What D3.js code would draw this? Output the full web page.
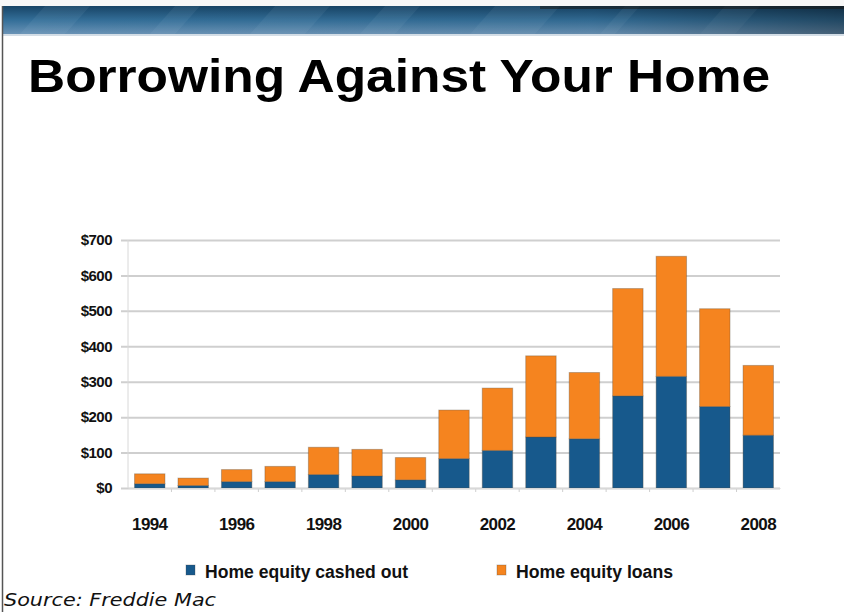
<!DOCTYPE html>
<html>
<head>
<meta charset="utf-8">
<script src="https://cdn.jsdelivr.net/npm/d3@7"></script>
<style>
  body { margin: 0; background: #fff; }
  svg { display: block; }
</style>
</head>
<body>
<div id="chart-container"></div>
<script>
// Years, and the two stacked series (billions of dollars)
const years = [1994, 1995, 1996, 1997, 1998, 1999, 2000, 2001, 2002, 2003, 2004, 2005, 2006, 2007, 2008];
const cashedOut = [12, 7, 18, 18, 38, 34, 23, 83, 106, 144, 139, 260, 315, 230, 149];
const equityLoans = [28, 21, 34, 43, 77, 75, 63, 137, 176, 229, 187, 303, 339, 276, 197];
const yTicks = [0, 100, 200, 300, 400, 500, 600, 700];
const seriesNames = ["Home equity cashed out", "Home equity loans"];
const seriesColors = ["#17598c", "#f5841f"];

const W = 844, H = 612;
const svg = d3.select("#chart-container").append("svg")
    .attr("width", W)
    .attr("height", H);

// Banner strip at the top
const defs = svg.append("defs");
const grad = defs.append("linearGradient").attr("id", "banner").attr("x1", 0).attr("y1", 0).attr("x2", 0).attr("y2", 1);
grad.append("stop").attr("offset", "0%").attr("stop-color", "#174466");
grad.append("stop").attr("offset", "50%").attr("stop-color", "#336e98");
grad.append("stop").attr("offset", "100%").attr("stop-color", "#6a93b6");
const grad2 = defs.append("linearGradient").attr("id", "bannerShade").attr("x1", 0).attr("y1", 0).attr("x2", 1).attr("y2", 0);
grad2.append("stop").attr("offset", "0%").attr("stop-color", "#000").attr("stop-opacity", 0);
grad2.append("stop").attr("offset", "70%").attr("stop-color", "#000").attr("stop-opacity", 0.05);
grad2.append("stop").attr("offset", "100%").attr("stop-color", "#000").attr("stop-opacity", 0.35);

svg.append("rect").attr("x", 0).attr("y", 0).attr("width", W).attr("height", 6).attr("fill", "#f7f7f7");
svg.append("rect").attr("x", 2).attr("y", 6).attr("width", W - 2).attr("height", 28).attr("fill", "url(#banner)");
// faint streaks in the banner
const streaks = [[20, 90], [150, 200], [250, 330], [360, 420], [470, 560], [600, 640], [700, 760]];
svg.append("g").selectAll("path")
    .data(streaks)
    .enter().append("path")
    .attr("d", d => `M${d[0]},34 L${d[0] + 25},6 L${d[1]},6 L${d[1] - 25},34 Z`)
    .attr("fill", "#a9c7de")
    .attr("opacity", 0.09);
svg.append("rect").attr("x", 2).attr("y", 6).attr("width", W - 2).attr("height", 28).attr("fill", "url(#bannerShade)");
svg.append("rect").attr("x", 540).attr("y", 6).attr("width", W - 540).attr("height", 3).attr("fill", "#1a1510").attr("opacity", 0.5);
svg.append("rect").attr("x", 2).attr("y", 34).attr("width", W - 2).attr("height", 2).attr("fill", "#d3dde6");
// left border line
svg.append("line").attr("x1", 2.5).attr("x2", 2.5).attr("y1", 6).attr("y2", H)
    .attr("stroke", "#555").attr("stroke-width", 1.5);

// Title
svg.append("text")
    .attr("x", 28)
    .attr("y", 92)
    .attr("font-family", "Liberation Sans, Arial, sans-serif")
    .attr("font-weight", "bold")
    .attr("font-size", 46)
    .attr("textLength", 742)
    .attr("lengthAdjust", "spacingAndGlyphs")
    .attr("fill", "#000")
    .text("Borrowing Against Your Home");

// Chart area
const margin = {top: 240, left: 128},
      width = 780 - 128,
      height = 488 - 240;

const g = svg.append("g").attr("transform", `translate(${margin.left}, ${margin.top})`);

const x = d3.scaleBand()
    .domain(years)
    .range([0, width])
    .paddingInner(0.3)
    .paddingOuter(0.15);

const y = d3.scaleLinear()
    .domain([0, 700])
    .range([height, 0]);

const labelFont = "'Liberation Sans', Arial, sans-serif";

// Gridlines and y labels
const yAxis = g.append("g")
    .call(d3.axisLeft(y).tickValues(yTicks).tickSize(-width).tickFormat(d => "$" + d));
yAxis.select(".domain").remove();
yAxis.selectAll(".tick line")
    .attr("x1", -7)
    .attr("stroke", "#cfcfcf")
    .attr("stroke-width", 2);
yAxis.selectAll(".tick text")
    .attr("x", -16)
    .attr("font-family", labelFont)
    .attr("font-weight", "bold")
    .attr("font-size", 15)
    .attr("letter-spacing", -0.5)
    .attr("fill", "#111");

// left axis line
g.append("line").attr("x1", 0).attr("x2", 0).attr("y1", 0).attr("y2", height)
    .attr("stroke", "#d8d8d8").attr("stroke-width", 1);

// Stacked bars
const rows = years.map((yr, i) => ({year: yr, cashed: cashedOut[i], loans: equityLoans[i]}));
const stack = d3.stack().keys(["cashed", "loans"]);
const layers = stack(rows);

g.selectAll(".layer")
    .data(layers)
    .enter().append("g")
    .attr("class", "layer")
    .attr("fill", (d, i) => seriesColors[i])
    .selectAll("rect")
    .data(d => d)
    .enter().append("rect")
    .attr("x", d => x(d.data.year))
    .attr("width", x.bandwidth())
    .attr("y", d => y(d[1]))
    .attr("height", d => y(d[0]) - y(d[1]))
    .attr("stroke", "#5a4a3a")
    .attr("stroke-opacity", 0.35)
    .attr("stroke-width", 1);

// small tick marks between the bands
g.append("g").selectAll("line")
    .data(years.slice(1))
    .enter().append("line")
    .attr("x1", d => x(d) - x.step() * x.paddingInner() / 2)
    .attr("x2", d => x(d) - x.step() * x.paddingInner() / 2)
    .attr("y1", height)
    .attr("y2", height + 4)
    .attr("stroke", "#cfcfcf");

// x axis with labels every other year
const xAxis = g.append("g")
    .attr("transform", `translate(0, ${height})`)
    .call(d3.axisBottom(x).tickSize(0).tickFormat(d => (d % 2 === 0 ? d : "")));
xAxis.select(".domain").attr("stroke", "#d8d8d8");
xAxis.selectAll(".tick text")
    .attr("dy", 0)
    .attr("y", 42)
    .attr("font-family", labelFont)
    .attr("font-weight", "bold")
    .attr("font-size", 17)
    .attr("letter-spacing", -0.6)
    .attr("fill", "#111");

// Legend
const legendX = [186, 497];
const legendW = [203, 157];
const legend = svg.append("g");
seriesNames.forEach((name, i) => {
    legend.append("rect")
        .attr("x", legendX[i])
        .attr("y", 565)
        .attr("width", 9)
        .attr("height", 10)
        .attr("fill", seriesColors[i])
        .attr("stroke", "#444")
        .attr("stroke-opacity", 0.3);
    legend.append("text")
        .attr("x", legendX[i] + 19)
        .attr("y", 578)
        .attr("font-family", labelFont)
        .attr("font-weight", "bold")
        .attr("font-size", 18)
        .attr("textLength", legendW[i])
        .attr("lengthAdjust", "spacingAndGlyphs")
        .attr("fill", "#111")
        .text(name);
});

// Source note
svg.append("text")
    .attr("x", 4)
    .attr("y", 606)
    .attr("font-family", "'DejaVu Sans', sans-serif")
    .attr("font-style", "italic")
    .attr("font-size", 18)
    .attr("textLength", 212)
    .attr("lengthAdjust", "spacingAndGlyphs")
    .attr("fill", "#111")
    .text("Source: Freddie Mac");
</script>
</body>
</html>
